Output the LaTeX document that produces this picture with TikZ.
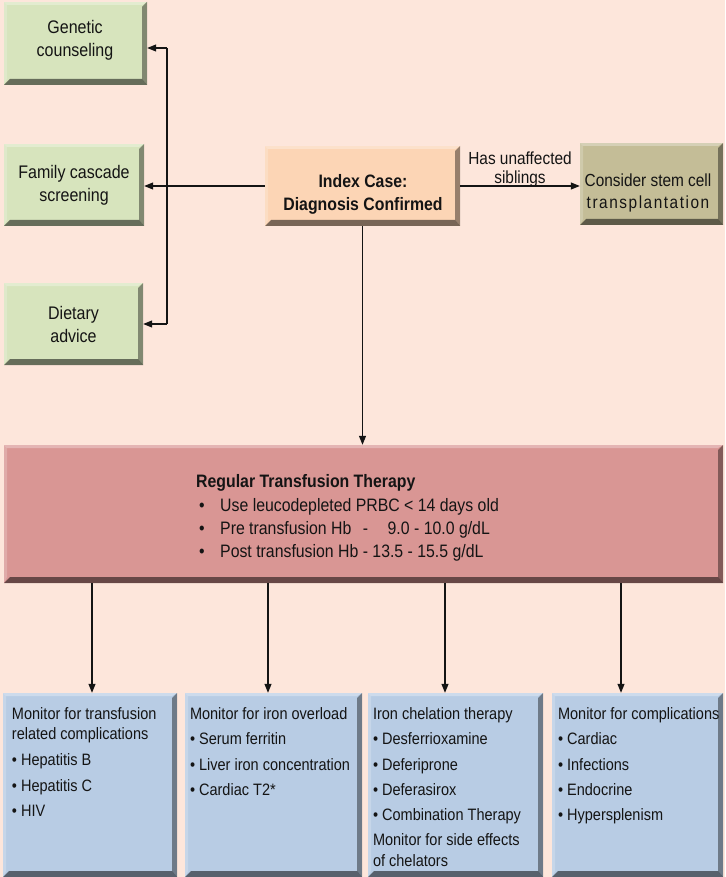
\documentclass[tikz,border=0pt]{standalone}
\usepackage{fontspec}
\setmainfont{Liberation Sans}[FakeStretch=0.88]
\usepackage{calc}
\usetikzlibrary{arrows.meta,calc}
\definecolor{bgc}{HTML}{FDE6DB}
\definecolor{greenc}{HTML}{D7E4BD}
\definecolor{peachc}{HTML}{FCD5B5}
\definecolor{olivec}{HTML}{C4BD97}
\definecolor{rosec}{HTML}{D99694}
\definecolor{bluec}{HTML}{B8CCE4}
\definecolor{txt}{HTML}{141414}
\tikzset{
  bevel/.style={path picture={
    \path (path picture bounding box.north east) coordinate (bvne)
          (path picture bounding box.south east) coordinate (bvse)
          (path picture bounding box.south west) coordinate (bvsw)
          (path picture bounding box.north west) coordinate (bvnw);
    \fill[white,opacity=0.3] (bvnw) -- (bvne) -- ($(bvne)+(-5pt,-3pt)$) -- ($(bvnw)+(3pt,-3pt)$) -- cycle;
    \fill[white,opacity=0.2] (bvnw) -- (bvsw) -- ($(bvsw)+(3pt,6pt)$) -- ($(bvnw)+(3pt,-3pt)$) -- cycle;
    \fill[black,opacity=0.4] (bvne) -- (bvse) -- ($(bvse)+(-5pt,6pt)$) -- ($(bvne)+(-5pt,-5pt)$) -- cycle;
    \fill[black,opacity=0.52] (bvsw) -- (bvse) -- ($(bvse)+(-5pt,6pt)$) -- ($(bvsw)+(6pt,6pt)$) -- cycle;
  }},
  boxnode/.style={inner sep=0pt, fill=#1, bevel, text=txt, align=center},
  ctext/.style={inner sep=0pt, align=center, text=txt},
  arr/.style={-{Triangle[length=9pt,width=7pt]}, line width=1.1pt, draw=txt},
  ln/.style={line width=1.1pt, draw=txt},
  btext/.style={inner sep=0pt, anchor=north west, align=left, text=txt,
    font=\fontsize{16.5}{20.5}\selectfont},
}
\begin{document}
\begin{tikzpicture}[x=1pt,y=-1pt]
\useasboundingbox (0,0) rectangle (725,877);
\fill[bgc] (0,0) rectangle (725,877);

% left green boxes
\node[boxnode=greenc, minimum width=143pt, minimum height=83pt] (gc) at (75.5,43.5) {};
\node[ctext, font=\fontsize{18.2}{23}\selectfont] (gct) at (75,40.5) {Genetic\\counseling};
\node[boxnode=greenc, minimum width=140pt, minimum height=82pt,
  font=\fontsize{18.2}{23}\selectfont] (fc) at (74,185) {Family cascade\\screening};
\node[boxnode=greenc, minimum width=139pt, minimum height=82pt,
  font=\fontsize{18.2}{23}\selectfont] (da) at (73.5,324) {Dietary\\advice};

% index case
\node[boxnode=peachc, minimum width=195pt, minimum height=80pt] (ic) at (362.5,186) {};
\node[ctext, font=\bfseries\fontsize{18}{23}\selectfont] (ict) at (363,194) {Index Case:\\Diagnosis Confirmed};

% stem cell
\node[boxnode=olivec, minimum width=143pt, minimum height=82pt] (sc) at (651.5,184) {};
\node[ctext, font=\fontsize{17.5}{22}\selectfont] (sct) at (648,193)
  {Consider stem cell\\{\addfontfeature{LetterSpace=8.8}transplantation}};

% transfusion
\node[boxnode=rosec, minimum width=719pt, minimum height=138pt] (tr) at (363.5,514) {};
\node[inner sep=0pt, anchor=north west, align=left, text=txt,
  font=\fontsize{18}{23.3}\selectfont] (tt) at (196,474.5)
  {\textbf{Regular Transfusion Therapy}\\
   \makebox[24pt][l]{\hspace{3pt}•}Use leucodepleted PRBC < 14 days old\\
   \makebox[24pt][l]{\hspace{3pt}•}\makebox[\widthof{Post transfusion Hb }][l]{Pre transfusion Hb}-\hspace{0.6em}\phantom{1}9.0 - 10.0 g/dL\\
   \makebox[24pt][l]{\hspace{3pt}•}Post transfusion Hb - 13.5 - 15.5 g/dL};

% bottom boxes
\node[boxnode=bluec, minimum width=174pt, minimum height=184pt] (b1) at (90,785) {};
\node[boxnode=bluec, minimum width=177pt, minimum height=184pt] (b2) at (273.5,785) {};
\node[boxnode=bluec, minimum width=175pt, minimum height=184pt] (b3) at (455.5,785) {};
\node[boxnode=bluec, minimum width=171pt, minimum height=184pt] (b4) at (637.5,785) {};

\node[btext] (t1) at ([shift={(9pt,-14.5pt)}]b1.north west)
  {Monitor for transfusion\\related complications\\[5.5pt]• Hepatitis B\\[5pt]• Hepatitis C\\[5pt]• HIV};
\node[btext] (t2) at ([shift={(5pt,-14.5pt)}]b2.north west)
  {Monitor for iron overload\\[4.8pt]• Serum ferritin\\[4.8pt]• Liver iron concentration\\[4.8pt]• Cardiac T2*};
\node[btext] (t3) at ([shift={(5pt,-14.5pt)}]b3.north west)
  {Iron chelation therapy\\[4.8pt]• Desferrioxamine\\[4.8pt]• Deferiprone\\[4.8pt]• Deferasirox\\[4.8pt]• Combination Therapy\\[4.8pt]Monitor for side effects\\of chelators};
\node[btext] (t4) at ([shift={(6pt,-14.5pt)}]b4.north west)
  {Monitor for complications\\[4.8pt]• Cardiac\\[4.8pt]• Infections\\[4.8pt]• Endocrine\\[4.8pt]• Hypersplenism};

% connectors left
\coordinate (jt) at (167,48);
\coordinate (jb) at (167,324);
\draw[ln] (jt) -- (jb);
\draw[arr] (jt) -- (jt -| gc.east);
\draw[arr] (jb) -- (jb -| da.east);
\draw[arr] (ic.west) -- (ic.west -| fc.east);

% to stem cell
\draw[arr] (ic.east) -- (ic.east -| sc.west)
  node[midway, above=-1.5pt, inner sep=0pt, align=center, text=txt, font=\fontsize{17.5}{19}\selectfont] (lab) {Has unaffected\\siblings};

% down to transfusion
\draw[arr] (ic.south) -- (ic.south |- tr.north);

% down to bottom boxes
\coordinate (a1) at (92,0);
\coordinate (a2) at (268,0);
\coordinate (a3) at (445,0);
\coordinate (a4) at (621,0);
\draw[arr] (tr.south -| a1) -- (b1.north -| a1);
\draw[arr] (tr.south -| a2) -- (b2.north -| a2);
\draw[arr] (tr.south -| a3) -- (b3.north -| a3);
\draw[arr] (tr.south -| a4) -- (b4.north -| a4);
\end{tikzpicture}
\end{document}
